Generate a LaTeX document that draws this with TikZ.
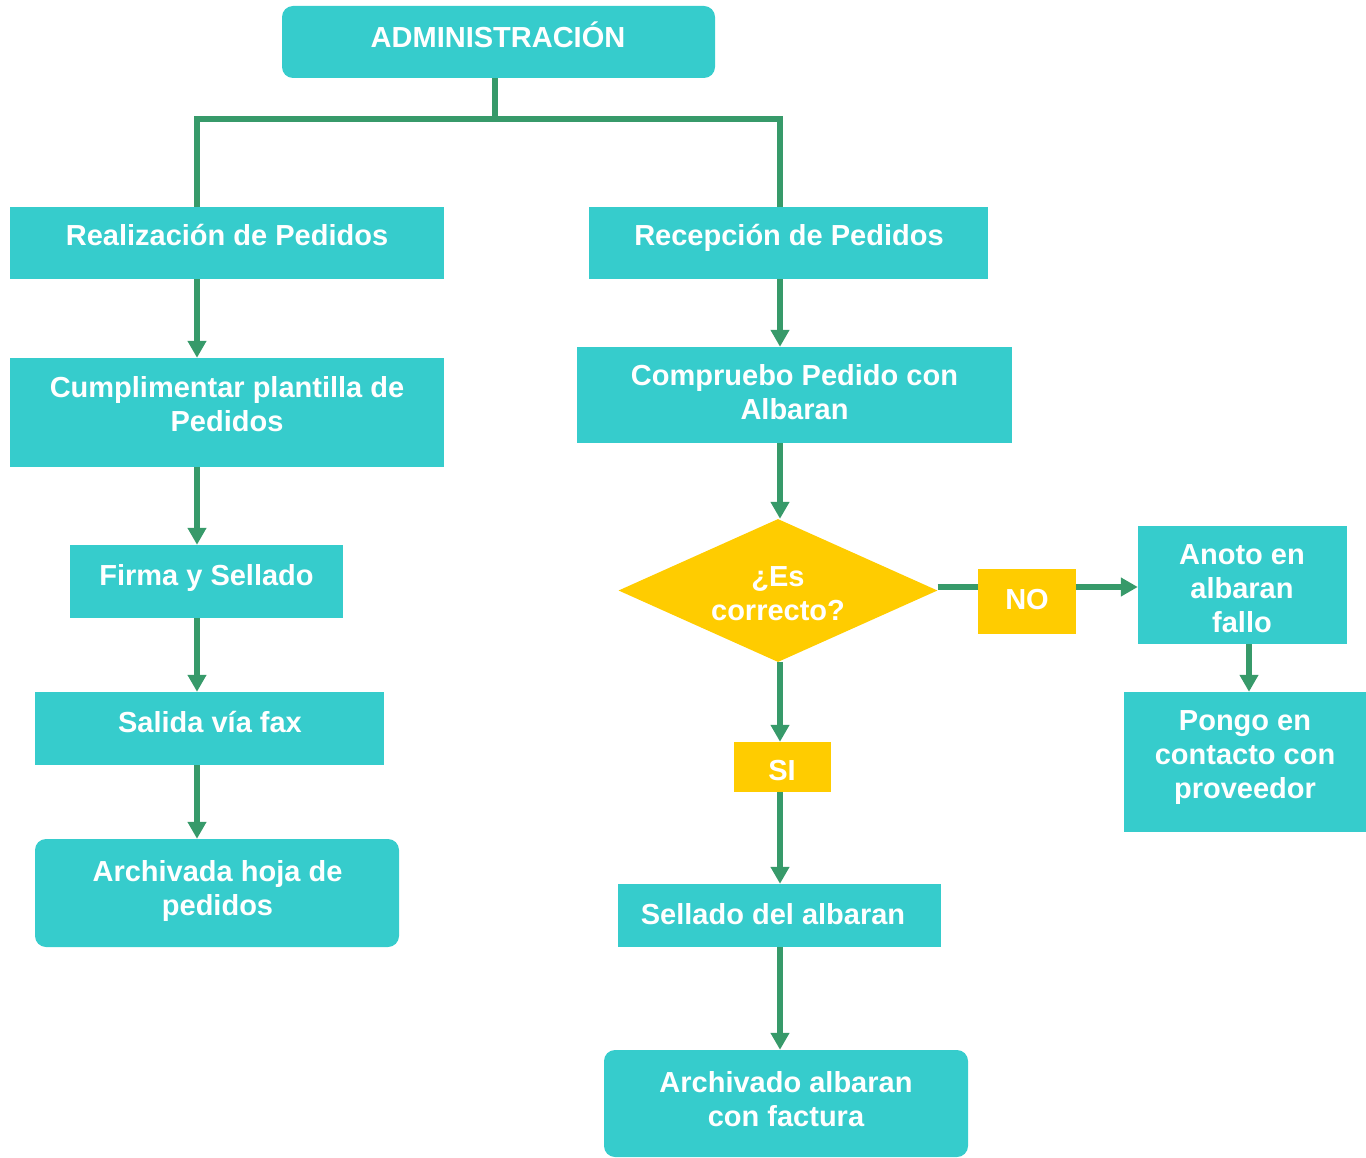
\documentclass[tikz,border=0pt]{standalone}
\usepackage{fontspec}
\setmainfont{Liberation Sans}
\usetikzlibrary{arrows.meta,shapes.geometric}
\definecolor{boxteal}{HTML}{36CCCC}
\definecolor{linkgreen}{HTML}{379A6A}
\definecolor{decyellow}{HTML}{FFCC00}
\begin{document}
\begin{tikzpicture}[x=1pt,y=-1pt,
  box/.style={fill=boxteal, draw=none, inner sep=0pt},
  rbox/.style={box, rounded corners=11pt},
  tag/.style={fill=decyellow, draw=none, inner sep=0pt},
  txt/.style={text=white, font=\fontsize{29}{34}\selectfont\bfseries, align=center, inner sep=0pt},
  link/.style={draw=linkgreen, line width=5.5pt},
  flow/.style={link, -{Triangle[width=18pt,length=17pt]}}]
\useasboundingbox (0,0) rectangle (1366,1158);

% column and row guides
\coordinate (colA) at (495,0);
\coordinate (colL) at (197,0);
\coordinate (colR) at (780,0);
\coordinate (colN) at (1249,0);
\coordinate (bar) at (0,119);
\coordinate (rowNo) at (0,587);

% boxes
\node[rbox, minimum width=433pt, minimum height=72pt] (adm) at (498.5,42) {};
\node[box, minimum width=434pt, minimum height=72pt] (realiz) at (227,243) {};
\node[box, minimum width=399pt, minimum height=72pt] (recep) at (788.5,243) {};
\node[box, minimum width=434pt, minimum height=109pt] (cumpl) at (227,412.5) {};
\node[box, minimum width=435pt, minimum height=96pt] (compr) at (794.5,395) {};
\node[box, minimum width=273pt, minimum height=73pt] (firma) at (206.5,581.5) {};
\node[box, minimum width=349pt, minimum height=73pt] (salida) at (209.5,728.5) {};
\node[rbox, minimum width=364pt, minimum height=108pt] (archa) at (217,893) {};
\node[diamond, fill=decyellow, draw=none, inner sep=0pt, aspect=2.23,
      minimum width=319pt, minimum height=143pt] (dec) at (778,590.5) {};
\node[tag, minimum width=98pt, minimum height=65pt] (no) at (1027,601.5) {};
\node[tag, minimum width=97pt, minimum height=50pt] (si) at (782.5,767) {};
\node[box, minimum width=209pt, minimum height=118pt] (anoto) at (1242.5,585) {};
\node[box, minimum width=242pt, minimum height=140pt] (pongo) at (1245,762) {};
\node[box, minimum width=323pt, minimum height=63pt] (sellado) at (779.5,915.5) {};
\node[rbox, minimum width=364pt, minimum height=107pt] (archb) at (786,1103.5) {};

% labels
\node[txt, anchor=base] (adm-t) at (498,47.5) {ADMINISTRACIÓN};
\node[txt, anchor=base] (realiz-t) at (227,245.5) {Realización de Pedidos};
\node[txt, anchor=base] (recep-t) at (789,245.5) {Recepción de Pedidos};
\node[txt] (cumpl-t) at (227,404) {Cumplimentar plantilla de\\Pedidos};
\node[txt] (compr-t) at (794.5,392) {Compruebo Pedido con\\Albaran};
\node[txt, anchor=base] (firma-t) at (206.5,585) {Firma y Sellado};
\node[txt, anchor=base] (salida-t) at (210,732.5) {Salida vía fax};
\node[txt] (archa-t) at (217.5,891) {Archivada hoja de\\pedidos};
\node[txt] (dec-t) at (778,594) {¿Es\\correcto?};
\node[txt, anchor=base] (no-t) at (1027,609) {NO};
\node[txt, anchor=base] (si-t) at (782,780) {SI};
\node[txt] (anoto-t) at (1242,589) {Anoto en\\albaran\\fallo};
\node[txt] (pongo-t) at (1245,758) {Pongo en\\contacto con\\proveedor};
\node[txt, anchor=base] (sellado-t) at (773,924.5) {Sellado del albaran};
\node[txt] (archb-t) at (786,1099) {Archivado albaran\\con factura};

% branching from the top box
\draw[link] (adm.south -| colA) -- (colA |- bar);
\draw[link, line join=miter] (realiz.north -| colL) -- (colL |- bar)
  -- (colR |- bar) -- (recep.north -| colR);

% left column
\draw[flow] (realiz.south -| colL) -- (cumpl.north -| colL);
\draw[flow] (cumpl.south -| colL) -- (firma.north -| colL);
\draw[flow] (firma.south -| colL) -- (salida.north -| colL);
\draw[flow] (salida.south -| colL) -- (archa.north -| colL);

% right column
\draw[flow] (recep.south -| colR) -- (compr.north -| colR);
\draw[flow] (compr.south -| colR) -- (dec.north -| colR);
\draw[flow] (dec.south -| colR) -- (si.north -| colR);
\draw[flow] (si.south -| colR) -- (sellado.north -| colR);
\draw[flow] (sellado.south -| colR) -- (archb.north -| colR);

% NO branch
\draw[link] (dec.east |- rowNo) -- (no.west |- rowNo);
\draw[flow] (no.east |- rowNo) -- (anoto.west |- rowNo);
\draw[flow] (anoto.south -| colN) -- (pongo.north -| colN);
\end{tikzpicture}
\end{document}
